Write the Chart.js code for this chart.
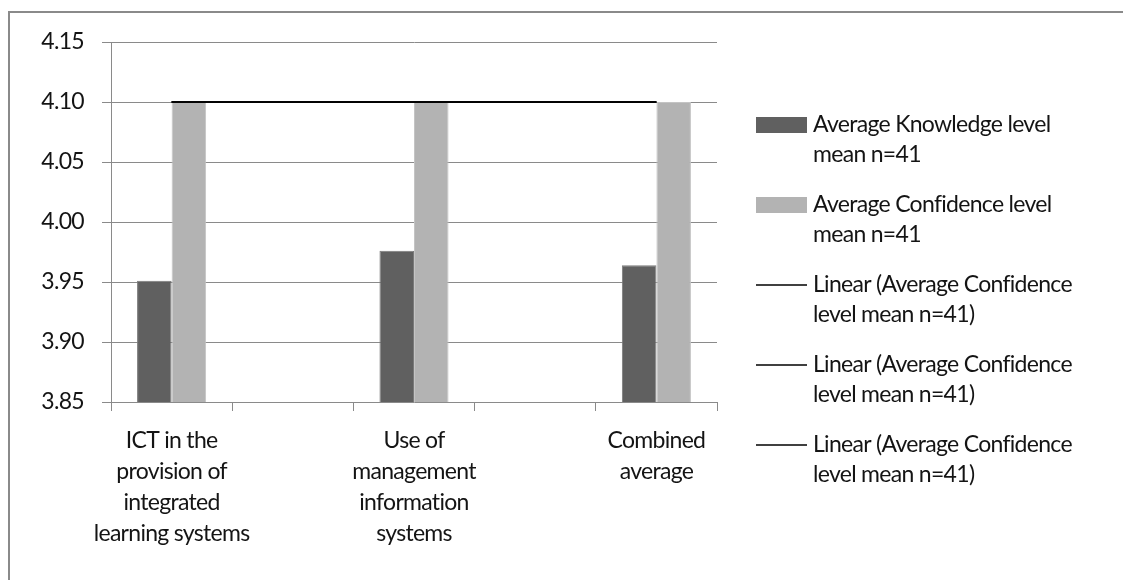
<!DOCTYPE html>
<html>
<head>
<meta charset="utf-8">
<script src="https://cdn.jsdelivr.net/npm/chart.js@4/dist/chart.umd.min.js"></script>
<style>
  body { margin: 0; background: #fff; }
  #wrap { width: 1123px; height: 580px; }
</style>
</head>
<body>
<div id="wrap"><canvas id="chart" width="1123" height="580"></canvas></div>
<script>
const categories = [
  ["ICT in the", "provision of", "integrated", "learning systems"],
  "",
  ["Use of", "management", "information", "systems"],
  "",
  ["Combined", "average"],
];
const knowledge = [3.951, null, 3.976, null, 3.964];
const confidence = [4.10, null, 4.10, null, 4.10];
const trend = [4.10, null, 4.10, null, 4.10];
const yTicks = [3.85, 3.90, 3.95, 4.00, 4.05, 4.10, 4.15];

const knowledgeLabel = ["Average Knowledge level", "mean n=41"];
const confidenceLabel = ["Average Confidence level", "mean n=41"];
const trendLabel = ["Linear (Average Confidence", "level mean n=41)"];

const FONT = "Lato, 'Noto Sans', sans-serif";
const TEXT = "#141414";
const GRID = "#8a8a8a";
const SPACING = "-0.7px"; // tighten Lato a bit towards the narrow original face

// border round the whole picture and the legend on the right
const frameAndLegend = {
  id: "frameAndLegend",
  beforeLayout(chart) {
    chart.ctx.letterSpacing = SPACING;
  },
  beforeDraw(chart) {
    const ctx = chart.ctx;
    ctx.letterSpacing = SPACING;
    ctx.save();
    ctx.strokeStyle = "#8a8a8a";
    ctx.lineWidth = 2;
    ctx.strokeRect(9, 12, 1130, 590);
    ctx.restore();
  },
  afterDraw(chart) {
    const ctx = chart.ctx;
    ctx.save();
    ctx.font = "23px " + FONT;
    ctx.textBaseline = "middle";
    chart.data.datasets.forEach((ds, i) => {
      const y = 125 + i * 80;
      if (ds.type === "line") {
        ctx.strokeStyle = ds.borderColor;
        ctx.lineWidth = 1.5;
        ctx.beginPath();
        ctx.moveTo(756, y);
        ctx.lineTo(807, y);
        ctx.stroke();
      } else {
        ctx.fillStyle = ds.backgroundColor;
        ctx.fillRect(756, y - 8, 51, 16);
      }
      ctx.fillStyle = TEXT;
      ds.legendLines.forEach((line, j) => ctx.fillText(line, 813, y + j * 30));
    });
    ctx.restore();
  },
};

const trendSet = () => ({
  type: "line",
  label: trendLabel.join(" "),
  legendLines: trendLabel,
  data: trend,
  borderColor: "#000000",
  borderWidth: 1.5,
  pointRadius: 0,
  spanGaps: true,
  order: 0,
});

new Chart(document.getElementById("chart"), {
  type: "bar",
  data: {
    labels: categories,
    datasets: [
      {
        label: knowledgeLabel.join(" "),
        legendLines: knowledgeLabel,
        data: knowledge,
        backgroundColor: "#606060",
        borderColor: "#7a7a7a",
        borderWidth: 1,
        categoryPercentage: 0.57,
        barPercentage: 1,
        order: 2,
      },
      {
        label: confidenceLabel.join(" "),
        legendLines: confidenceLabel,
        data: confidence,
        backgroundColor: "#b3b3b3",
        borderColor: "#c4c4c4",
        borderWidth: 1,
        categoryPercentage: 0.57,
        barPercentage: 1,
        order: 2,
      },
      trendSet(),
      trendSet(),
      trendSet(),
    ],
  },
  options: {
    responsive: false,
    animation: false,
    layout: { padding: { left: 0, top: 42, right: 406, bottom: 0 } },
    plugins: {
      legend: { display: false },
      tooltip: { enabled: false },
    },
    scales: {
      x: {
        offset: true,
        grid: {
          offset: true,
          drawOnChartArea: false,
          tickLength: 9,
          color: GRID,
        },
        border: { display: false },
        ticks: {
          padding: 14,
          color: TEXT,
          maxRotation: 0,
          autoSkip: false,
          font: { family: FONT, size: 23, lineHeight: 1.35 },
        },
        afterFit(scale) {
          scale.height = 178;
        },
      },
      y: {
        min: yTicks[0],
        max: yTicks[yTicks.length - 1],
        afterBuildTicks(scale) {
          scale.ticks = yTicks.map((v) => ({ value: v }));
        },
        grid: { color: GRID, tickLength: 9 },
        border: { color: GRID },
        ticks: {
          padding: 18,
          color: TEXT,
          font: { family: FONT, size: 23 },
          callback: (v) => Number(v).toFixed(2),
        },
        afterFit(scale) {
          scale.width = 111;
        },
      },
    },
  },
  plugins: [frameAndLegend],
});
</script>
</body>
</html>
